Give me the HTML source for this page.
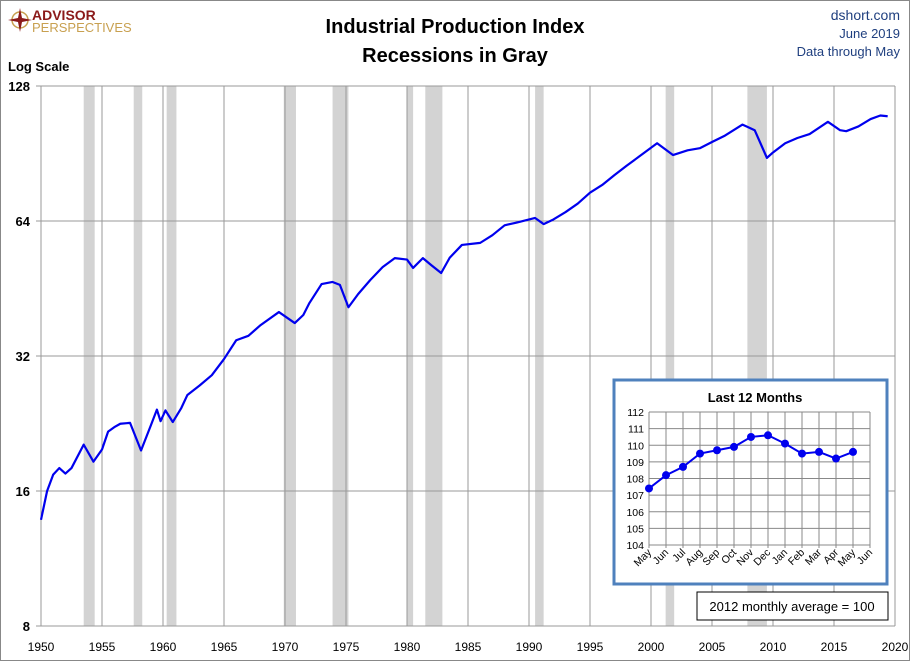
<!DOCTYPE html>
<html><head><meta charset="utf-8"><style>
body{margin:0;background:#fff;font-family:"Liberation Sans",sans-serif}
svg text{font-family:"Liberation Sans",sans-serif}
</style></head><body>
<svg width="910" height="661" xmlns="http://www.w3.org/2000/svg">
<rect x="0.5" y="0.5" width="909" height="660" fill="#fff" stroke="#888"/>
<g id="logo">
<circle cx="20" cy="20" r="8" fill="none" stroke="#c8a050" stroke-width="1.5"/>
<polygon points="20,8 22,18 32,20 22,22 20,32 18,22 8,20 18,18" fill="#8b1a1a"/>
<text x="32" y="20" font-size="14" font-weight="bold" fill="#8b1a1a">ADVISOR</text>
<text x="32" y="32" font-size="13" fill="#c8a050">PERSPECTIVES</text>
</g>
<text x="455" y="33" text-anchor="middle" font-size="20" font-weight="bold">Industrial Production Index</text>
<text x="455" y="62" text-anchor="middle" font-size="20" font-weight="bold">Recessions in Gray</text>
<text x="900" y="20" text-anchor="end" font-size="14" fill="#1f3f7f">dshort.com</text>
<text x="900" y="38" text-anchor="end" font-size="13" fill="#1f3f7f">June 2019</text>
<text x="900" y="56" text-anchor="end" font-size="13" fill="#1f3f7f">Data through May</text>
<text x="8" y="71" font-size="13" font-weight="bold">Log Scale</text>
<g id="rec"></g><g id="grid"></g><g id="axes"></g><g id="line"></g>
<g id="inset"></g>
</svg>
<script>
const years=[1950,1950.5,1951,1951.5,1952,1952.5,1953.5,1954.3,1955,1955.5,1956,1956.5,1957.3,1958.2,1959,1959.5,1959.8,1960.2,1960.8,1961.5,1962,1963,1964,1965,1966,1967,1968,1969.5,1970.8,1971.5,1972,1973,1973.9,1974.5,1975.2,1976,1977,1978,1979,1980,1980.5,1981.3,1982,1982.8,1983.5,1984.5,1986,1987,1988,1989,1990.5,1991.2,1992,1993,1994,1995,1996,1997,1998,1999,2000.5,2001.8,2003,2004,2005,2006,2007.5,2008.5,2009.5,2010,2011,2012,2013,2014.5,2015.5,2016,2017,2018,2018.8,2019.4];
const values=[13.8,16,17.4,18,17.5,18,20.3,18.6,19.8,21.7,22.2,22.6,22.7,19.7,22.4,24.3,22.9,24.2,22.8,24.5,26.2,27.5,29.0,31.5,34.7,35.5,37.5,40.1,37.9,39.5,42,46.3,46.8,46.1,41.1,44,47.3,50.5,52.9,52.5,50.3,52.9,51,49.0,53,56.6,57.2,59.5,62.6,63.5,65,63,64.5,67,70,74,77,81,85,89,95.4,89.8,92,93,96,99,105,102,88.5,91,95.4,98,100,106.5,102,101.5,104,108,110,109.6];
const recessions=[[1953.5,1954.4],[1957.6,1958.3],[1960.3,1961.1],[1969.9,1970.9],[1973.9,1975.2],[1980.0,1980.5],[1981.5,1982.9],[1990.5,1991.2],[2001.2,2001.9],[2007.9,2009.5]];
const yTicks=[8,16,32,64,128];
const xTicks=[1950,1955,1960,1965,1970,1975,1980,1985,1990,1995,2000,2005,2010,2015,2020];
const months=["May","Jun","Jul","Aug","Sep","Oct","Nov","Dec","Jan","Feb","Mar","Apr","May","Jun"];
const recent=[107.4,108.2,108.7,109.5,109.7,109.9,110.5,110.6,110.1,109.5,109.6,109.2,109.6];
const insetTicks=[104,105,106,107,108,109,110,111,112];
const NS="http://www.w3.org/2000/svg";
function mk(t,a,p){const e=document.createElementNS(NS,t);for(const k in a)e.setAttribute(k,a[k]);p.appendChild(e);return e;}
const X=y=>41+(y-1950)*(895-41)/70;
const Y=v=>626-135*Math.log2(v/8);
const rec=document.getElementById('rec'),grid=document.getElementById('grid'),axes=document.getElementById('axes'),line=document.getElementById('line'),inset=document.getElementById('inset');
recessions.forEach(r=>{const e=mk('rect',{x:X(r[0]),y:86,width:X(r[1])-X(r[0]),height:540,fill:'#d3d3d3'},rec);

});
xTicks.forEach(t=>{const e=mk('line',{x1:X(t),x2:X(t),y1:86,y2:626,stroke:'#999','stroke-width':1},grid);


const l=mk('text',{x:X(t),y:651,'text-anchor':'middle','font-size':12},axes);l.textContent=t;

});
yTicks.forEach(t=>{const e=mk('line',{x1:36,x2:895,y1:Y(t),y2:Y(t),stroke:'#999','stroke-width':1},grid);


const l=mk('text',{x:30,y:Y(t)+5,'text-anchor':'end','font-size':13,'font-weight':'bold'},axes);l.textContent=t;

});
const p=mk('polyline',{points:years.map((y,i)=>X(y)+','+Y(values[i])).join(' '),fill:'none',stroke:'#0000ee','stroke-width':2.2,'stroke-linejoin':'round'},line);


const bx=mk('rect',{x:614,y:380,width:273,height:204,fill:'#fff',stroke:'#4f81bd','stroke-width':3},inset);


const it=mk('text',{x:755,y:402,'text-anchor':'middle','font-size':13,'font-weight':'bold'},inset);it.textContent='Last 12 Months';


const IX=i=>649+i*(870-649)/13, IY=v=>545-(v-104)*(545-412)/8;
insetTicks.forEach(t=>{const g=mk('line',{x1:649,x2:870,y1:IY(t),y2:IY(t),stroke:'#888'},inset);


const l=mk('text',{x:644,y:IY(t)+4,'text-anchor':'end','font-size':10.5},inset);l.textContent=t;

});
months.forEach((m,i)=>{const g=mk('line',{x1:IX(i),x2:IX(i),y1:412,y2:548,stroke:'#888'},inset);


const l=mk('text',{x:IX(i)+3,y:553,'text-anchor':'end','font-size':10.5,transform:`rotate(-45 ${IX(i)+3} 553)`},inset);l.textContent=m;

});
const ip=mk('polyline',{points:recent.map((v,i)=>IX(i)+','+IY(v)).join(' '),fill:'none',stroke:'#0000ee','stroke-width':2},inset);


recent.forEach((v,i)=>{const c=mk('circle',{cx:IX(i),cy:IY(v),r:4,fill:'#0000ee'},inset);

});
const nb=mk('rect',{x:697,y:592,width:191,height:28,fill:'#fff',stroke:'#000'},inset);


const nt=mk('text',{x:792,y:611,'text-anchor':'middle','font-size':13},inset);nt.textContent='2012  monthly average = 100';


</script>
</body></html>
